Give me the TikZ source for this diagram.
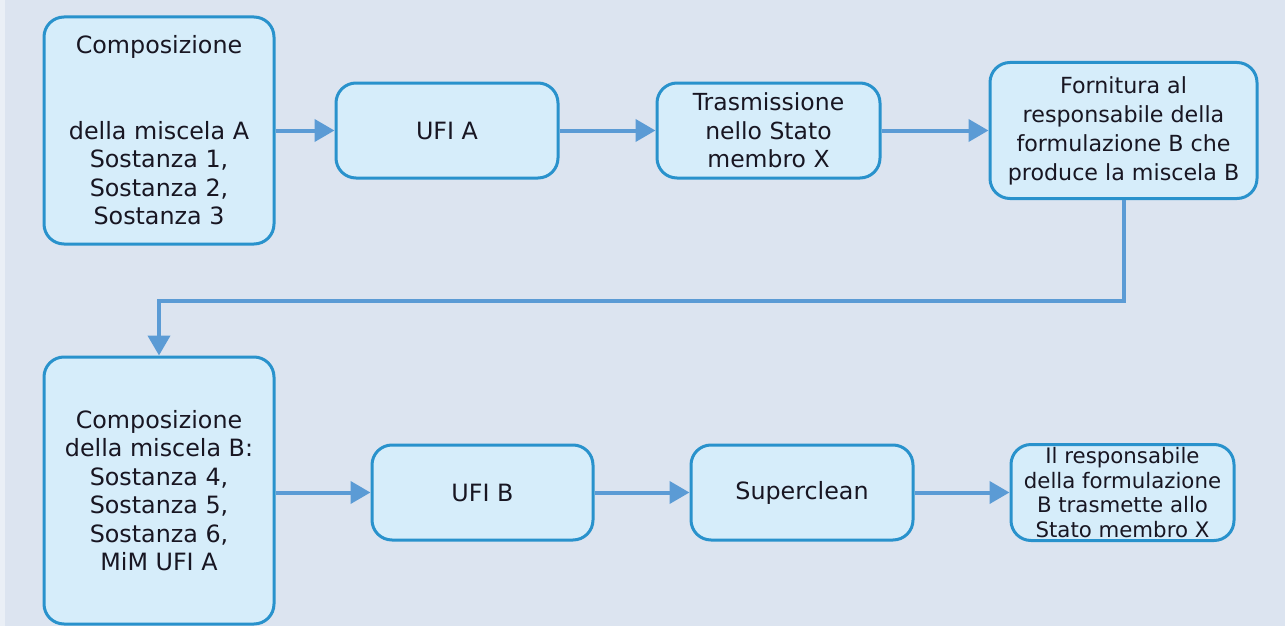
\documentclass[tikz,border=0pt]{standalone}
\usepackage{fontspec}
\setmainfont{DejaVu Sans}
\usetikzlibrary{arrows.meta}

\definecolor{bgcol}{RGB}{220,228,240}
\definecolor{edgecol}{RGB}{220,229,240}
\definecolor{boxfill}{RGB}{214,237,250}
\definecolor{boxline}{RGB}{41,146,204}
\definecolor{flowcol}{RGB}{91,155,213}
\definecolor{txtcol}{RGB}{24,22,34}

\tikzset{
  stepbox/.style={draw=boxline, line width=3pt, fill=boxfill, rounded corners=20pt,
    align=center, text=txtcol, inner sep=0pt,
    font=\fontsize{23.8}{28.5}\selectfont},
  flow/.style={draw=flowcol, line width=4pt,
    -{Triangle[length=20pt,width=22pt]}},
}

\begin{document}
\begin{tikzpicture}[x=1pt, y=-1pt]
  % canvas
  \fill[bgcol] (0,0) rectangle (1285,626);
  \fill[edgecol!60!white] (0,0) rectangle (5,626);
  \useasboundingbox (0,0) rectangle (1285,626);

  % upper row
  \node[stepbox, minimum width=230pt, minimum height=227pt] (compA) at (159,130.5)
    {Composizione\\ ~\\ ~\\ della miscela A\\ Sostanza 1,\\ Sostanza 2,\\ Sostanza 3};
  \node[stepbox, minimum width=222pt, minimum height=95pt] (ufiA) at (447,130.5) {UFI A};
  \node[stepbox, minimum width=223pt, minimum height=95pt,
    font=\fontsize{23.5}{28.5}\selectfont] (trasm) at (768.5,130.5)
    {Trasmissione\\ nello Stato\\ membro X};
  \node[stepbox, minimum width=267pt, minimum height=136pt,
    font=\fontsize{22.2}{29}\selectfont] (forn) at (1123.5,130.5)
    {Fornitura al\\ responsabile della\\ formulazione B che\\ produce la miscela B};

  % lower row
  \node[stepbox, minimum width=230pt, minimum height=267pt] (compB) at (159,490.5)
    {Composizione\\ della miscela B:\\ Sostanza 4,\\ Sostanza 5,\\ Sostanza 6,\\ MiM UFI A};
  \node[stepbox, minimum width=221pt, minimum height=95pt] (ufiB) at (482.5,492.5) {UFI B};
  \node[stepbox, minimum width=222pt, minimum height=95pt] (super) at (802,492.5) {Superclean};
  \node[stepbox, minimum width=223pt, minimum height=96pt,
    font=\fontsize{21.3}{24.5}\selectfont] (resp) at (1122.5,492.5)
    {Il responsabile\\ della formulazione\\ B trasmette allo\\ Stato membro X};

  % connectors
  \coordinate (turn) at (640,301);
  \draw[flow] (compA.east |- ufiA.west) -- (ufiA.west);
  \draw[flow] (ufiA.east) -- (trasm.west);
  \draw[flow] (trasm.east) -- (forn.west |- trasm.east);
  \draw[flow] (forn.south) |- (turn) -| (compB.north);
  \draw[flow] (compB.east |- ufiB.west) -- (ufiB.west);
  \draw[flow] (ufiB.east) -- (super.west);
  \draw[flow] (super.east) -- (resp.west |- super.east);
\end{tikzpicture}
\end{document}
